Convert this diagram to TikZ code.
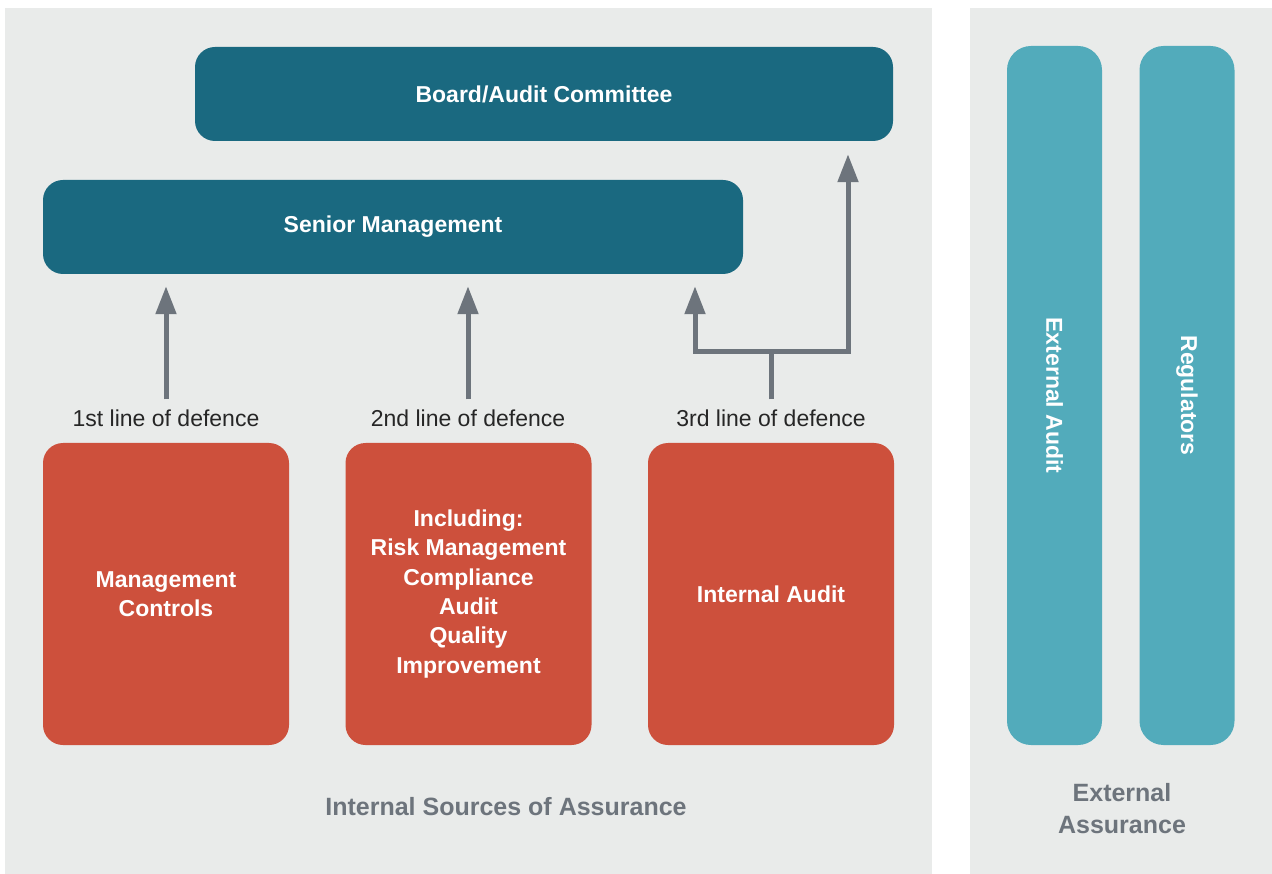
\documentclass[tikz,border=0pt]{standalone}
\usepackage{fontspec}
\setmainfont{Liberation Sans}
\usetikzlibrary{arrows.meta}
\definecolor{bgc}{HTML}{E9EBEA}
\definecolor{darkteal}{HTML}{1A6980}
\definecolor{redbox}{HTML}{CD503C}
\definecolor{lightteal}{HTML}{52ABBB}
\definecolor{greyc}{HTML}{6D747C}
\definecolor{textc}{HTML}{262626}
\begin{document}
\begin{tikzpicture}[x=1pt,y=-1pt,
  box/.style={rounded corners=20pt, inner sep=0pt, align=center, text=white,
    font=\fontsize{23}{29.3}\selectfont\bfseries},
  darkbox/.style={box, fill=darkteal},
  redb/.style={box, fill=redbox, minimum width=246pt, minimum height=302pt},
  tealb/.style={box, fill=lightteal, rounded corners=24pt, minimum width=95pt, minimum height=699pt},
  lod/.style={font=\fontsize{23}{25}\selectfont, text=textc, inner sep=0pt},
  capt/.style={font=\fontsize{25}{32}\selectfont\bfseries, text=greyc, align=center},
  arr/.style={draw=greyc, line width=5pt, line join=miter, -{Triangle[width=20pt,length=28pt]}},
  seg/.style={draw=greyc, line width=5pt, line join=miter}
]
\useasboundingbox (0,0) rectangle (1272,874);
\fill[bgc] (5,8) rectangle (932,874);
\fill[bgc] (970,8) rectangle (1272,874);

\node[darkbox, minimum width=698pt, minimum height=94pt] (board) at (544,94) {Board/Audit Committee};
\node[darkbox, minimum width=700pt, minimum height=94pt] (sm) at (393,227) {Senior Management};

\node[redb] (r1) at (166,594) {Management\\Controls};
\node[redb] (r2) at (468.5,594) {Including:\\Risk Management\\Compliance\\Audit\\Quality\\Improvement};
\node[redb] (r3) at (771,594) {Internal Audit};

\node[tealb] (ea) at (1054.5,395.5) {};
\node[rotate=-90, text=white, font=\fontsize{23}{25}\selectfont\bfseries] (eat) at (ea.center) {External Audit};
\node[tealb] (reg) at (1187,395.5) {};
\node[rotate=-90, text=white, font=\fontsize{23}{25}\selectfont\bfseries] (regt) at (reg.center) {Regulators};

\node[lod] (l1) at (166,418) {1st line of defence};
\node[lod] (l2) at (468,418) {2nd line of defence};
\node[lod] (l3) at (771,418) {3rd line of defence};

\node[capt] (isa) at (506,807) {Internal Sources of Assurance};
\node[capt] (exa) at (1122,809) {External\\Assurance};

\draw[arr] ([yshift=10pt]l1.north) -- ([yshift=-12pt]l1.north |- sm.south);
\draw[arr] ([yshift=10pt]l2.north) -- ([yshift=-12pt]l2.north |- sm.south);

\coordinate (s3) at ([yshift=10pt]l3.north);
\coordinate (j3) at (771,352);
\coordinate (la) at (695,352);
\coordinate (ra) at (848,352);
\draw[seg] (s3) -- (j3);
\draw[arr] (j3) -- (la) -- ([yshift=-12pt]la |- sm.south);
\draw[arr] (j3) -- (ra) -- ([yshift=-13pt]ra |- board.south);
\end{tikzpicture}
\end{document}
